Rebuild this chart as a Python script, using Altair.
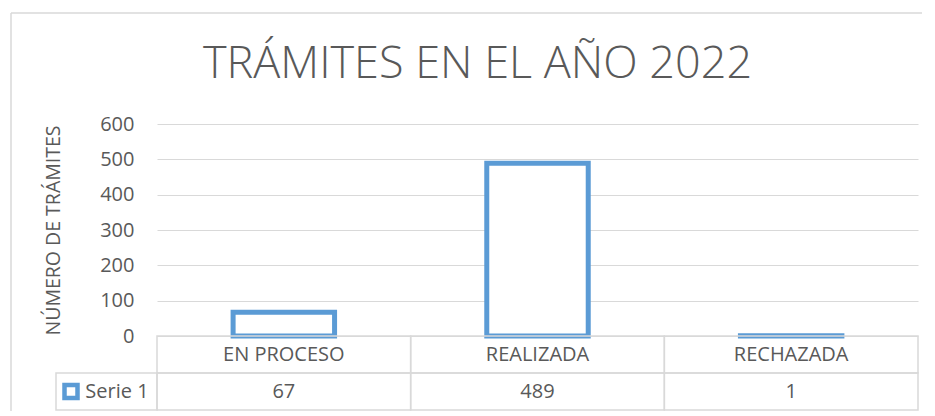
import altair as alt
import pandas as pd

categories = ["EN PROCESO", "REALIZADA", "RECHAZADA"]
values = [67, 489, 1]
series_name = "Serie 1"
y_ticks = [0, 100, 200, 300, 400, 500, 600]
title_text = "TRÁMITES EN EL AÑO 2022"
y_title = "NÚMERO DE TRÁMITES"
table_rows = ["cat", "val"]

BLUE = "#5B9BD5"
GREY = "#595959"
LINE = "#d9d9d9"
FONT = "Open Sans"

bars_df = pd.DataFrame({"cat": categories, "value": values})
cells = pd.DataFrame(
    [{"cat": c, "row": r} for c in categories for r in table_rows]
)
cells_lbl = pd.DataFrame({"cat": categories, "row": ["cat"] * 3, "txt": categories})
cells_val = pd.DataFrame({"cat": categories, "row": ["val"] * 3, "txt": [str(v) for v in values]})

W, H, TH = 761, 212, 74

base_top = alt.Chart(bars_df)

bars = base_top.mark_bar(fill="white", stroke=BLUE, strokeWidth=5).encode(
    x=alt.X("cat:N", sort=categories,
            scale=alt.Scale(paddingInner=0.6, paddingOuter=0.3), axis=None),
    y=alt.Y("value:Q", scale=alt.Scale(domain=[0, 600], nice=False),
            axis=alt.Axis(values=y_ticks, title=y_title, grid=True, gridColor=LINE,
                          gridWidth=1.2, domain=False, ticks=False,
                          labelFontSize=20, labelColor=GREY, labelFont=FONT,
                          labelPadding=23, titleFont=FONT, titleFontSize=19.5,
                          titleFontWeight="normal", titleColor=GREY, titlePadding=36)),
)

title_mark = alt.Chart(pd.DataFrame({"t": [title_text]})).mark_text(
    font=FONT, fontSize=45, fontWeight=300, color=GREY, align="center", baseline="alphabetic"
).encode(text="t:N", x=alt.value(320.5), y=alt.value(-46))

border_left = alt.Chart(pd.DataFrame({"a": [0]})).mark_rule(color=LINE, strokeWidth=1.5).encode(
    x=alt.value(-146), y=alt.value(-111), y2=alt.value(287))
border_top = alt.Chart(pd.DataFrame({"a": [0]})).mark_rule(color=LINE, strokeWidth=1.5).encode(
    x=alt.value(-146), x2=alt.value(765), y=alt.value(-111))

top = alt.layer(border_left, border_top, title_mark, bars).properties(width=W, height=H)

xs = alt.X("cat:N", sort=categories, scale=alt.Scale(paddingInner=0, paddingOuter=0), axis=None)
ys = alt.Y("row:N", sort=table_rows, scale=alt.Scale(domain=table_rows, paddingInner=0, paddingOuter=0), axis=None)

cell_rects = alt.Chart(cells).mark_rect(fill=None, stroke=LINE, strokeWidth=1.5).encode(x=xs, y=ys)
lbl_text = alt.Chart(cells_lbl).mark_text(font=FONT, fontSize=20, color=GREY).encode(x=xs, y=ys, text="txt:N")
val_text = alt.Chart(cells_val).mark_text(font=FONT, fontSize=20, color=GREY).encode(x=xs, y=ys, text="txt:N")

series_df = pd.DataFrame({"row": ["val"], "name": [series_name]})
left_rect = alt.Chart(series_df).mark_rect(fill=None, stroke=LINE, strokeWidth=1.5).encode(
    x=alt.value(-101), x2=alt.value(0), y=ys)
series_text = alt.Chart(series_df).mark_text(font=FONT, fontSize=20, color=GREY, align="center").encode(
    x=alt.value(-40), y=ys, text="name:N")
series_sq = alt.Chart(series_df).mark_square(size=169, fill="white", fillOpacity=1, stroke=BLUE,
                                             strokeWidth=4.5, opacity=1).encode(
    x=alt.value(-86), y=ys)

table = alt.layer(cell_rects, left_rect, lbl_text, val_text, series_text, series_sq).properties(
    width=W, height=TH)

chart = alt.vconcat(top, table, spacing=0, bounds="flush").resolve_scale(
    x="independent", y="independent"
).properties(
    padding={"left": 2, "top": 4, "right": 0, "bottom": 0},
    background="white",
).configure_view(stroke=None)

chart.save("out.html", embed_options={"renderer": "svg", "actions": False})
